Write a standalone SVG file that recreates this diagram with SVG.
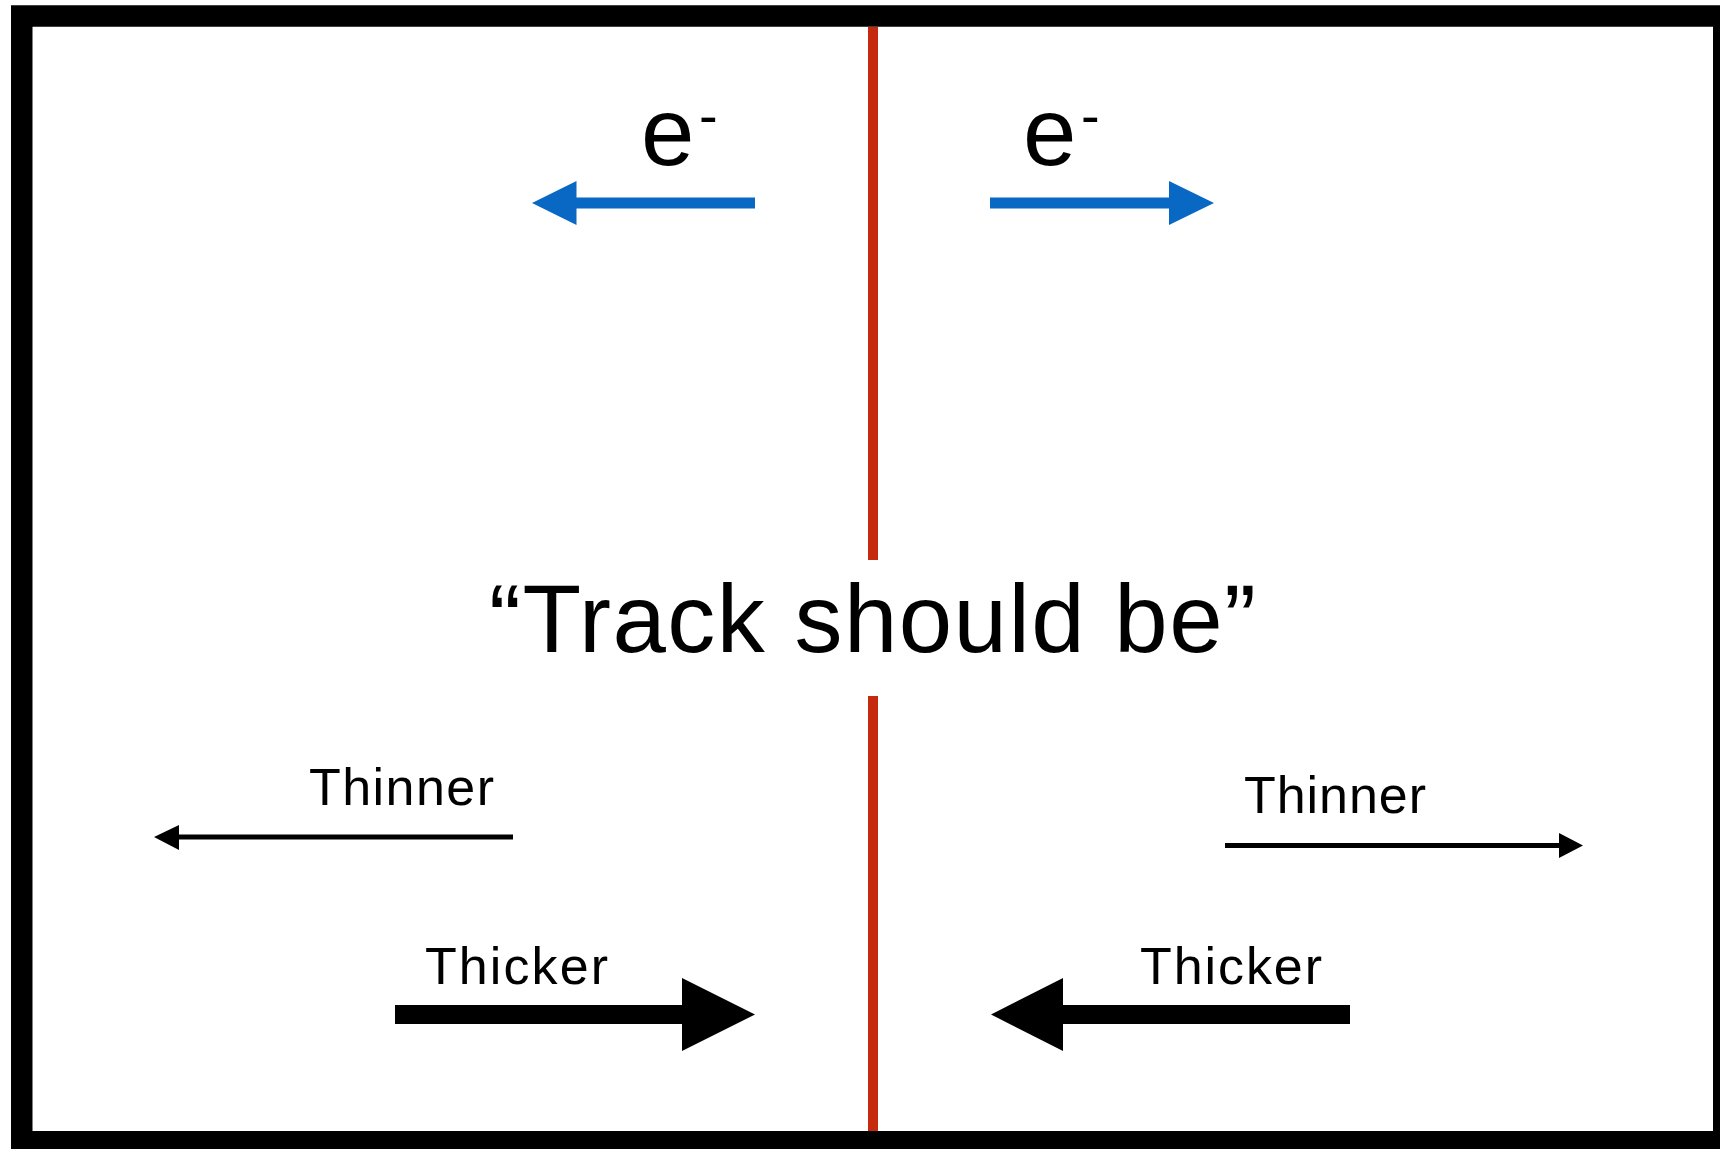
<svg xmlns="http://www.w3.org/2000/svg" width="1720" height="1149" viewBox="0 0 1720 1149">
<style>
  .lbl { font-family: "Liberation Sans", Arial, Helvetica, sans-serif; fill: #000; }
  .blue { fill: #0868C4; }
  .blk { fill: #000; }
  .red { fill: #C62A0E; }
</style>
<rect x="0" y="0" width="1720" height="1149" fill="#fff"/>
<rect id="frame" x="21.75" y="16" width="1702" height="1125.75" fill="none" stroke="#000" stroke-width="21.5"/>
<g id="divider">
  <rect class="red" x="868" y="27" width="10" height="533"/>
  <rect class="red" x="868" y="696" width="10" height="435"/>
</g>
<g id="title">
  <text class="lbl" x="489" y="652" font-size="96" textLength="767" lengthAdjust="spacing">“Track should be”</text>
</g>
<g id="electron-left">
  <text class="lbl" x="641" y="165" font-size="96">e</text>
  <text class="lbl" x="699" y="135" font-size="56">-</text>
</g>
<g id="electron-right">
  <text class="lbl" x="1023" y="165" font-size="96">e</text>
  <text class="lbl" x="1081" y="135" font-size="56">-</text>
</g>
<g id="thinner-left">
  <text class="lbl" x="309" y="805" font-size="52" textLength="185" lengthAdjust="spacing">Thinner</text>
</g>
<g id="thinner-right">
  <text class="lbl" x="1244" y="813" font-size="52" textLength="182" lengthAdjust="spacing">Thinner</text>
</g>
<g id="thicker-left">
  <text class="lbl" x="425" y="984" font-size="52" textLength="183" lengthAdjust="spacing">Thicker</text>
</g>
<g id="thicker-right">
  <text class="lbl" x="1140" y="984" font-size="52" textLength="182" lengthAdjust="spacing">Thicker</text>
</g>
<g id="connectors">
  <polygon class="blue" points="532,203 576.5,181 576.5,197.5 755,197.5 755,208.5 576.5,208.5 576.5,225"/>
  <polygon class="blue" points="1214,203 1169,181 1169,197.5 990,197.5 990,208.5 1169,208.5 1169,225"/>
  <polygon class="blk" points="154,837 179,825 179,834.5 513,834.5 513,839.5 179,839.5 179,850"/>
  <polygon class="blk" points="1583,845.5 1559,833 1559,843 1225,843 1225,848 1559,848 1559,858"/>
  <polygon class="blk" points="755,1014.5 682,978 682,1005 395,1005 395,1024 682,1024 682,1051"/>
  <polygon class="blk" points="991,1014.5 1063,978 1063,1005 1350,1005 1350,1024 1063,1024 1063,1051"/>
</g>
</svg>
